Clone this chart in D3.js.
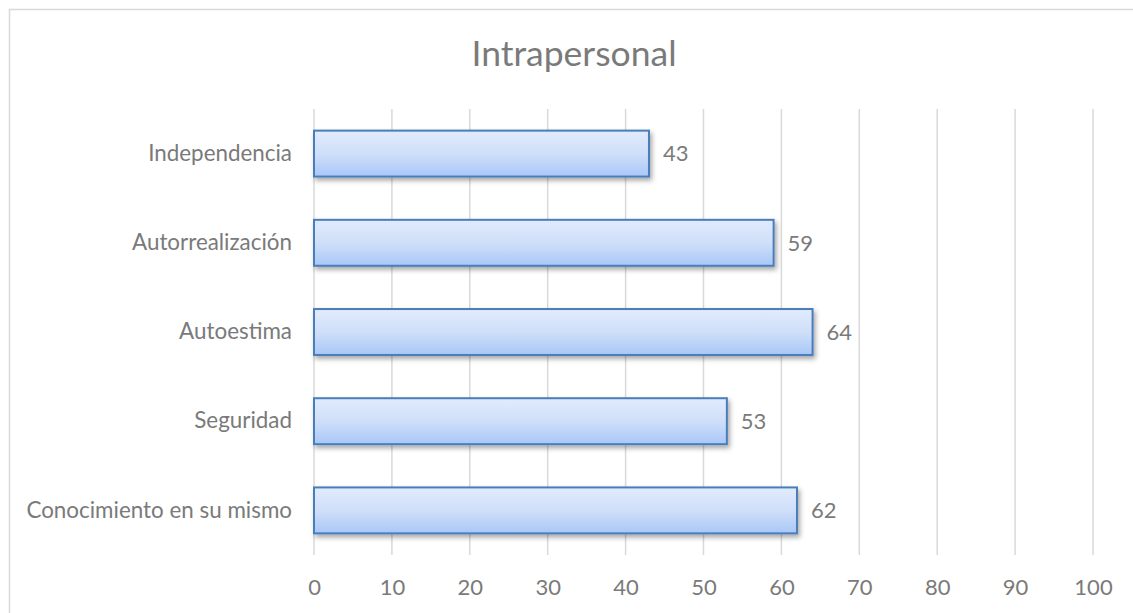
<!DOCTYPE html>
<html>
<head>
<meta charset="utf-8">
<script src="https://cdn.jsdelivr.net/npm/d3@7/dist/d3.min.js"></script>
<style>
  body { margin: 0; background: #fff; }
  svg text { font-family: Lato, "Open Sans", sans-serif; fill: #7a7a7a; }
</style>
</head>
<body>
<svg id="chart"></svg>
<script>
// chart data
const categories = ["Independencia", "Autorrealización", "Autoestima", "Seguridad", "Conocimiento en su mismo"];
const values = [43, 59, 64, 53, 62];
const xTicks = [0, 10, 20, 30, 40, 50, 60, 70, 80, 90, 100];
const title = "Intrapersonal";

const config = {
  width: 1133,
  height: 613,
  margin: { top: 109, right: 40, bottom: 58, left: 314 },
};

const svg = d3.select("#chart")
  .attr("width", config.width)
  .attr("height", config.height);

// outer frame
svg.append("rect")
  .attr("x", 9.5).attr("y", 9.5)
  .attr("width", config.width + 20).attr("height", config.height + 20)
  .attr("fill", "none")
  .attr("stroke", "#d9d9d9")
  .attr("stroke-width", 1.5);

const defs = svg.append("defs");
const grad = defs.append("linearGradient")
  .attr("id", "barGrad")
  .attr("x1", 0).attr("y1", 0).attr("x2", 0).attr("y2", 1);
grad.append("stop").attr("offset", "0%").attr("stop-color", "#e1ebfc");
grad.append("stop").attr("offset", "50%").attr("stop-color", "#cfdff9");
grad.append("stop").attr("offset", "100%").attr("stop-color", "#a9c7f7");

const shadow = defs.append("filter").attr("id", "shadow")
  .attr("x", "-5%").attr("y", "-20%").attr("width", "110%").attr("height", "160%");
shadow.append("feDropShadow")
  .attr("dx", 2).attr("dy", 3).attr("stdDeviation", 2.5)
  .attr("flood-color", "#000").attr("flood-opacity", 0.35);

const width = 1093 - config.margin.left;
const height = 555 - config.margin.top;

const chart = svg.append("g")
  .attr("transform", `translate(${config.margin.left},${config.margin.top})`);

const xScale = d3.scaleLinear().domain([0, 100]).range([0, width]);
const yScale = d3.scaleBand().domain(categories).range([0, height]).paddingInner(0.485).paddingOuter(0.2425);

// gridlines
chart.selectAll(".grid")
  .data(xTicks)
  .join("line")
  .attr("class", "grid")
  .attr("x1", d => xScale(d)).attr("x2", d => xScale(d))
  .attr("y1", 0).attr("y2", height)
  .attr("stroke", "#d9d9d9")
  .attr("stroke-width", 1.5);

// x axis labels
const xAxis = d3.axisBottom(xScale).tickValues(xTicks).tickSize(0).tickPadding(24);
const xAxisG = chart.append("g")
  .attr("transform", `translate(0,${height})`)
  .call(xAxis);
xAxisG.select(".domain").remove();
xAxisG.selectAll("text")
  .attr("font-size", 22)
  .attr("fill", "#7a7a7a")
  .style("font-family", "Lato, sans-serif");

// y axis labels
const yAxis = d3.axisLeft(yScale).tickSize(0).tickPadding(22);
const yAxisG = chart.append("g").call(yAxis);
yAxisG.select(".domain").remove();
yAxisG.selectAll("text")
  .attr("font-size", 22.4)
  .attr("fill", "#7a7a7a")
  .style("font-family", "Lato, sans-serif");

// bars
chart.selectAll(".bar")
  .data(values)
  .join("rect")
  .attr("class", "bar")
  .attr("x", 0)
  .attr("y", (d, i) => yScale(categories[i]))
  .attr("width", d => xScale(d))
  .attr("height", yScale.bandwidth())
  .attr("fill", "url(#barGrad)")
  .attr("stroke", "#4a7ebb")
  .attr("stroke-width", 2)
  .attr("filter", "url(#shadow)");

// value labels
chart.selectAll(".value")
  .data(values)
  .join("text")
  .attr("class", "value")
  .attr("x", d => xScale(d) + 14)
  .attr("y", (d, i) => yScale(categories[i]) + yScale.bandwidth() / 2)
  .attr("dy", "0.35em")
  .attr("font-size", 22)
  .text(d => d);

// title
svg.append("text")
  .attr("x", 574)
  .attr("y", 66)
  .attr("text-anchor", "middle")
  .attr("font-size", 35.5)
  .text(title);
</script>
</body>
</html>
